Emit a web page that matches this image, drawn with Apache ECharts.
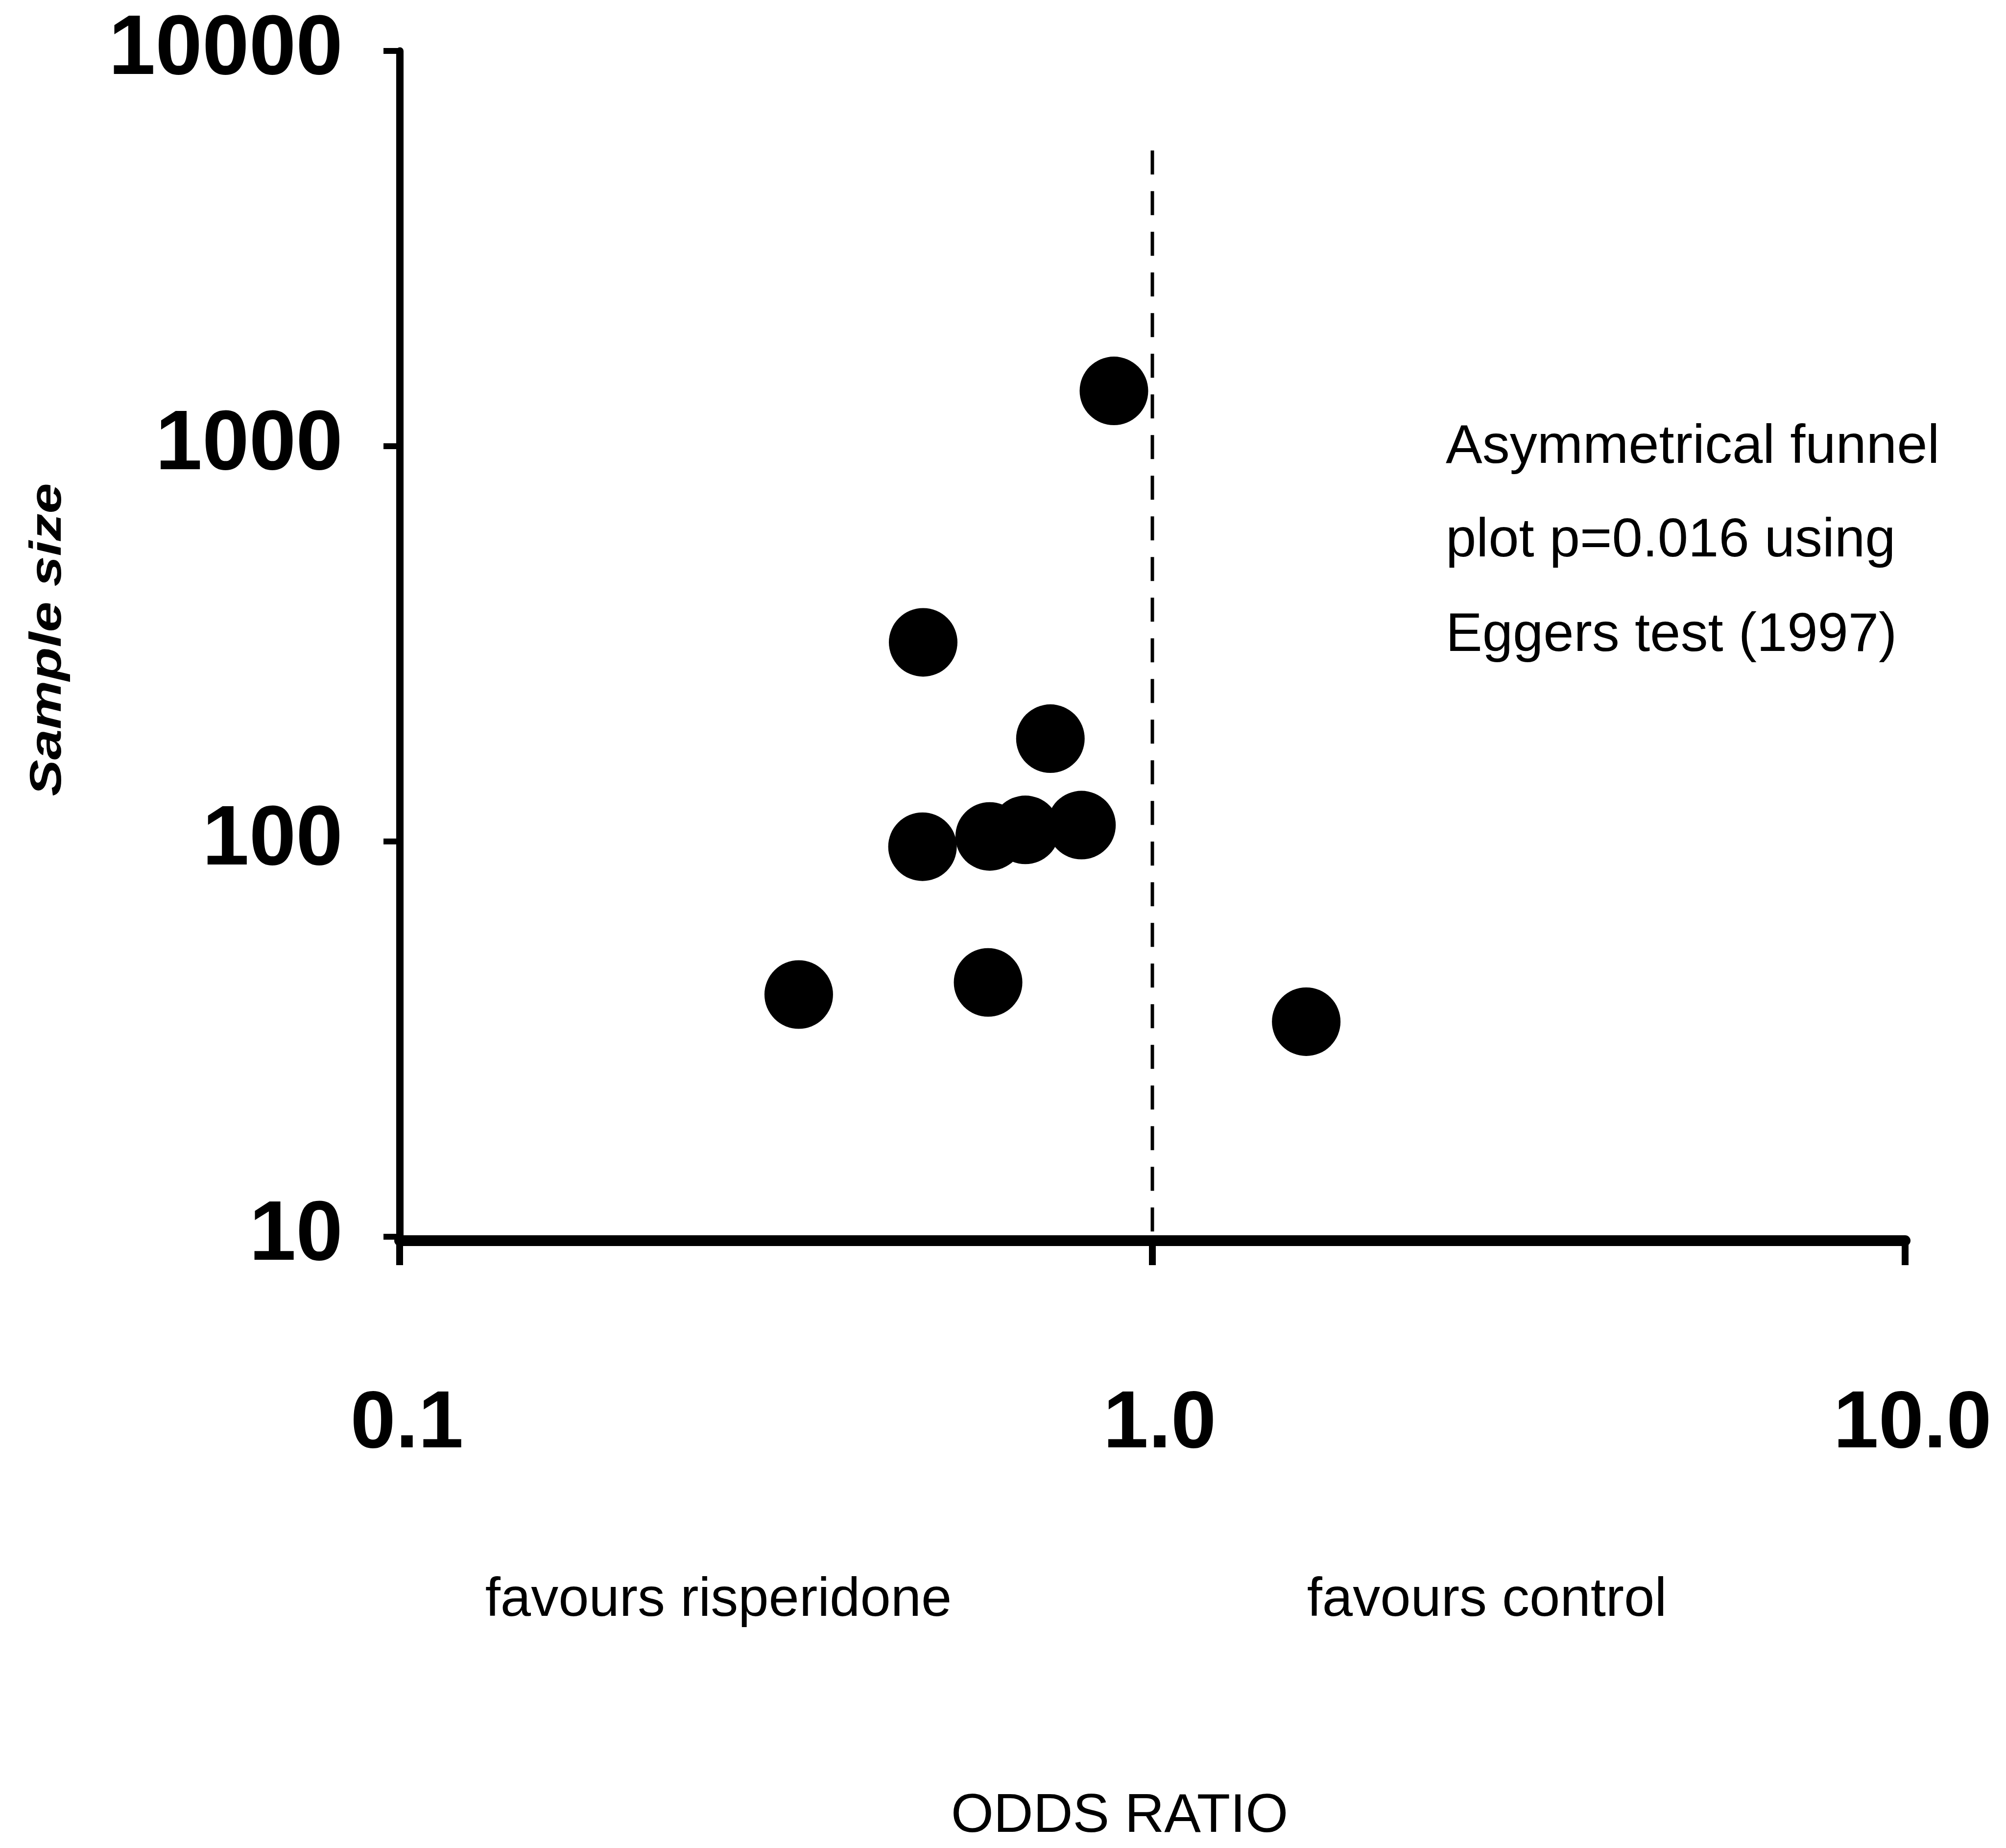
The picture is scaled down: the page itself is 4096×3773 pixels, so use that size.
<!DOCTYPE html>
<html><head><meta charset="utf-8">
<script src="https://cdn.jsdelivr.net/npm/echarts@6/dist/echarts.min.js"></script>
<style>html,body{margin:0;padding:0;background:#fff}#c{width:4096px;height:3773px}</style>
</head><body><div id="c"></div>
<script>
// ---- data ----
const oddsRatio  = [0.889, 0.496, 0.732, 0.495, 0.608, 0.678, 0.805, 0.339, 0.605, 1.601];
const sampleSize = [1380, 319, 182, 97, 103, 107, 110, 41, 44, 35];
const nullLineOR = [1, 1];
const nullLineN  = [5600, 10];
const xTickLabels = ['0.1', '1.0', '10.0'];
const yTickLabels = ['10', '100', '1000', '10000'];
const annotationLines = ['Asymmetrical funnel', 'plot p=0.016 using', 'Eggers test (1997)'];
const yTitle = 'Sample size';
const xTitle = 'ODDS RATIO';
const leftNote = 'favours risperidone';
const rightNote = 'favours control';

const FONT = "'Liberation Sans', Arial, sans-serif";
const points = oddsRatio.map((x, i) => [x, sampleSize[i]]);
const nullLine = nullLineOR.map((x, i) => [x, nullLineN[i]]);

const chart = echarts.init(document.getElementById('c'), null, {renderer: 'canvas'});
const txt = (t, x, y, opt) => Object.assign({
  type: 'text', x: x, y: y, silent: true,
  style: Object.assign({text: t, fill: '#000', fontFamily: FONT, fontSize: 112,
    align: 'center', verticalAlign: 'middle'}, opt || {})
});

chart.setOption({
  animation: false,
  backgroundColor: '#fff',
  grid: {left: 816, top: 104, width: 3074, height: 2421, containLabel: false, outerBoundsMode: 'none'},
  xAxis: {
    type: 'log', logBase: 10, min: 0.1, max: 10, offset: 8,
    axisLine: {show: true, onZero: false, lineStyle: {color: '#000', width: 22}},
    axisTick: {show: true, length: 50, lineStyle: {color: '#000', width: 14}},
    minorTick: {show: false}, splitLine: {show: false},
    axisLabel: {
      margin: 293, color: '#000', fontFamily: FONT, fontWeight: 'bold', fontSize: 166,
      padding: [0, 0, 0, 30],
      formatter: (v, i) => xTickLabels[i]
    }
  },
  yAxis: {
    type: 'log', logBase: 10, min: 10, max: 10000,
    axisLine: {show: true, onZero: false, lineStyle: {color: '#000', width: 15}},
    axisTick: {show: true, length: 33, lineStyle: {color: '#000', width: 12}},
    minorTick: {show: false}, splitLine: {show: false},
    axisLabel: {
      margin: 116, color: '#000', fontFamily: FONT, fontWeight: 'bold', fontSize: 172,
      padding: [44, 0, 0, 0],
      formatter: (v, i) => yTickLabels[i]
    }
  },
  series: [
    {
      type: 'line', data: nullLine, symbol: 'none', z: 1,
      lineStyle: {color: '#000', width: 7, type: [49, 34]}
    },
    {
      type: 'scatter', data: points, symbol: 'circle', symbolSize: 140, z: 3,
      itemStyle: {color: '#000', opacity: 1}
    }
  ],
  graphic: [
    Object.assign(txt(yTitle, 99, 1306, {fontSize: 90, fontWeight: 'bold', fontStyle: 'italic'}),
      {rotation: Math.PI / 2, scaleX: 1.24}),
    txt(annotationLines[0], 2952, 914, {align: 'left'}),
    txt(annotationLines[1], 2952, 1105, {align: 'left'}),
    txt(annotationLines[2], 2952, 1298, {align: 'left'}),
    txt(leftNote, 1467, 3268),
    txt(rightNote, 3036, 3268),
    txt(xTitle, 2286, 3709)
  ]
});
</script></body></html>
